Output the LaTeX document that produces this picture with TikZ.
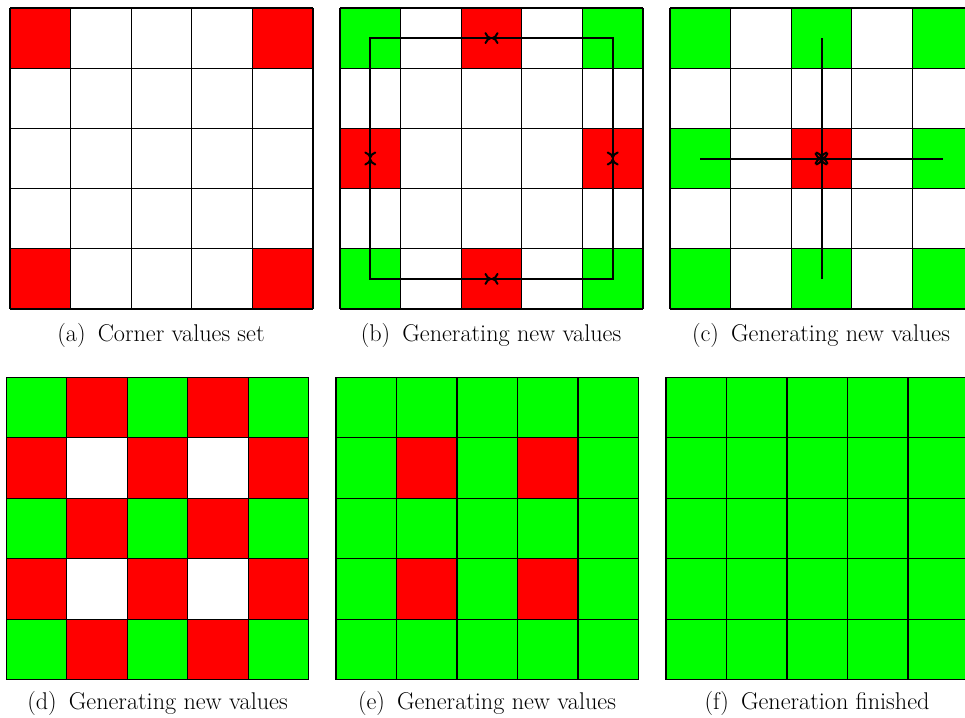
\documentclass[tikz,border=0pt]{standalone}
\usetikzlibrary{arrows.meta}
\definecolor{cred}{RGB}{255,0,0}
\definecolor{cgreen}{RGB}{0,255,0}
\tikzset{
  gridline/.style={black, line width=1.2pt},
  pathline/.style={black, line width=2pt},
  tipend/.style={-{To[length=7pt,width=12pt]}},
  captext/.style={font=\fontsize{24.2}{28}\selectfont, anchor=base, inner sep=0pt},
}
\newcommand{\cellat}[3]{\fill[#3] (\ox+#1*\cw,\oy+#2*\ch) rectangle ++(\cw,\ch);}
\newcommand{\gridlines}{%
  \foreach \i in {0,...,5} {
    \draw[gridline] (\ox+\i*\cw,\oy) -- (\ox+\i*\cw,\oy+5*\ch);
    \draw[gridline] (\ox,\oy+\i*\ch) -- (\ox+5*\cw,\oy+\i*\ch);
  }}
\newcommand{\ctr}[3]{\coordinate (#1) at (\ox+#2*\cw+0.5*\cw,\oy+#3*\ch+0.5*\ch);}
\begin{document}
\begin{tikzpicture}[x=1pt,y=-1pt]
\clip (0,0) rectangle (965,717);
\fill[white] (0,0) rectangle (965,717);
% ---------- (a)
\def\ox{10}\def\oy{8}\def\cw{60.6}\def\ch{60.2}
\foreach \c/\r in {0/0,4/0,0/4,4/4} {\cellat{\c}{\r}{cred}}
\gridlines
\node[captext] (capa) at (161,341) {(a)\hspace{0.5em}Corner values set};
% ---------- (b)
\def\ox{340}
\foreach \c/\r in {0/0,4/0,0/4,4/4} {\cellat{\c}{\r}{cgreen}}
\foreach \c/\r in {2/0,0/2,4/2,2/4} {\cellat{\c}{\r}{cred}}
\gridlines
\ctr{b00}{0}{0}\ctr{b20}{2}{0}\ctr{b40}{4}{0}
\ctr{b02}{0}{2}\ctr{b42}{4}{2}
\ctr{b04}{0}{4}\ctr{b24}{2}{4}\ctr{b44}{4}{4}
\draw[pathline] (b00) rectangle (b44);
\draw[pathline,tipend] (b00) -- (b20);
\draw[pathline,tipend] (b40) -- (b20);
\draw[pathline,tipend] (b00) -- (b02);
\draw[pathline,tipend] (b04) -- (b02);
\draw[pathline,tipend] (b40) -- (b42);
\draw[pathline,tipend] (b44) -- (b42);
\draw[pathline,tipend] (b04) -- (b24);
\draw[pathline,tipend] (b44) -- (b24);
\node[captext] (capb) at (491,341) {(b)\hspace{0.5em}Generating new values};
% ---------- (c)
\def\ox{670}
\foreach \c/\r in {0/0,2/0,4/0,0/2,4/2,0/4,2/4,4/4} {\cellat{\c}{\r}{cgreen}}
\cellat{2}{2}{cred}
\gridlines
\ctr{c20}{2}{0}\ctr{c02}{0}{2}\ctr{c22}{2}{2}\ctr{c42}{4}{2}\ctr{c24}{2}{4}
\draw[pathline] (c20) -- (c24);
\draw[pathline] (c02) -- (c42);
\draw[pathline,tipend] (c20) -- (c22);
\draw[pathline,tipend] (c24) -- (c22);
\draw[pathline,tipend] (c02) -- (c22);
\draw[pathline,tipend] (c42) -- (c22);
\node[captext] (capc) at (821,341) {(c)\hspace{0.5em}Generating new values};
% ---------- (d)
\def\ox{6.3}\def\oy{377.3}\def\cw{60.5}\def\ch{60.5}
\foreach \c in {0,...,4} {
  \foreach \r in {0,...,4} {
    \pgfmathtruncatemacro{\parity}{mod(\c+\r,2)}
    \pgfmathtruncatemacro{\bothodd}{and(mod(\c,2)==1,mod(\r,2)==1)}
    \ifnum\parity=1 \cellat{\c}{\r}{cred}\else
      \ifnum\bothodd=0 \cellat{\c}{\r}{cgreen}\fi
    \fi
  }}
\gridlines
\node[captext] (capd) at (157.5,709.5) {(d)\hspace{0.5em}Generating new values};
% ---------- (e)
\def\ox{336}
\fill[cgreen] (\ox,\oy) rectangle ++(5*\cw,5*\ch);
\foreach \c/\r in {1/1,3/1,1/3,3/3} {\cellat{\c}{\r}{cred}}
\gridlines
\node[captext] (cape) at (487,709.5) {(e)\hspace{0.5em}Generating new values};
% ---------- (f)
\def\ox{666}
\fill[cgreen] (\ox,\oy) rectangle ++(5*\cw,5*\ch);
\gridlines
\node[captext] (capf) at (817,709.5) {(f)\hspace{0.5em}Generation finished};
\end{tikzpicture}
\end{document}
